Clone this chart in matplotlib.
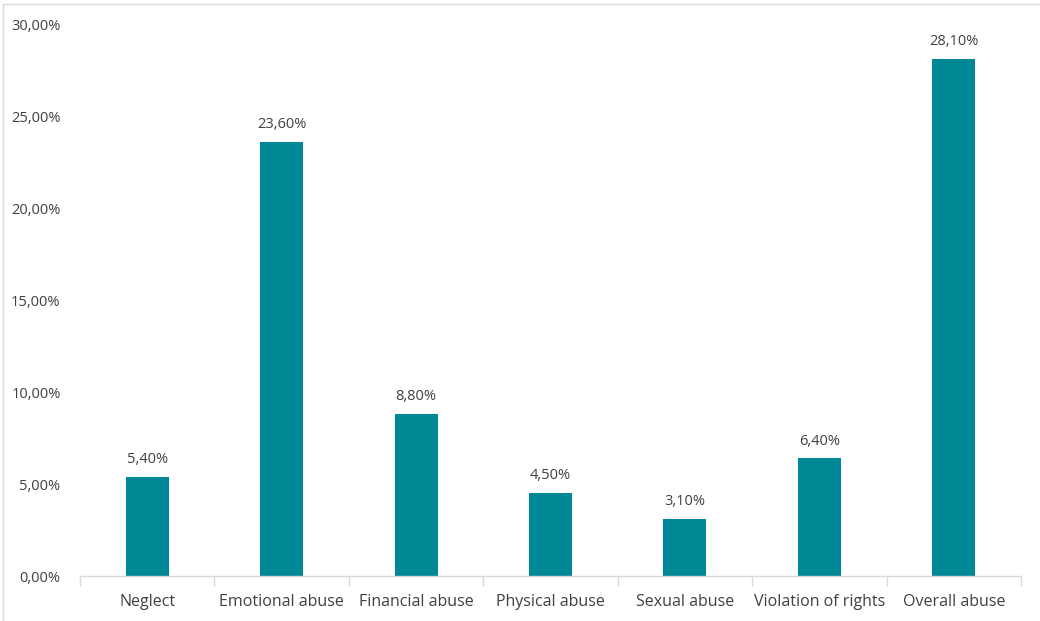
import matplotlib
matplotlib.use("Agg")
import matplotlib.pyplot as plt
from matplotlib.lines import Line2D
import numpy as np

categories = ["Neglect", "Emotional abuse", "Financial abuse", "Physical abuse",
              "Sexual abuse", "Violation of rights", "Overall abuse"]
values = [5.40, 23.60, 8.80, 4.50, 3.10, 6.40, 28.10]
yticks = [0, 5, 10, 15, 20, 25, 30]

plt.rcParams['font.family'] = ['Open Sans', 'DejaVu Sans']
txt = '#404040'
grey = '#d9d9d9'
bar_color = '#008896'

fig = plt.figure(figsize=(10.4, 6.21), dpi=100)
ax = fig.add_axes([80/1040, 1-576/621, (1021-80)/1040, (576-24)/621])

x = np.arange(len(categories))
ax.bar(x, values, width=0.32, color=bar_color, zorder=2)
for xi, v in zip(x, values):
    ax.annotate(f"{v:.2f}".replace('.', ',') + "%", (xi, v), xytext=(0, 7),
                textcoords='offset points', ha='center', va='bottom',
                fontsize=10.5, color=txt)

ax.set_xlim(-0.5, len(categories) - 0.5)
ax.set_ylim(0, 30)
ax.set_yticks(yticks)
ax.set_yticklabels([f"{t:.2f}".replace('.', ',') + "%" for t in yticks],
                   fontsize=10.5, color=txt)
ax.tick_params(axis='y', length=0, pad=14)
ax.set_xticks(x)
ax.set_xticklabels(categories, fontsize=11.5, color=txt)
ax.tick_params(axis='x', length=0, pad=13)
ax.set_xticks(np.arange(-0.5, len(categories)), minor=True)
ax.tick_params(axis='x', which='minor', length=7, color=grey, width=1)

for s in ['top', 'right', 'left']:
    ax.spines[s].set_visible(False)
ax.spines['bottom'].set_color(grey)
ax.spines['bottom'].set_linewidth(1)

# outer chart frame (top and left)
fig.add_artist(Line2D([3/1040, 1], [1-4/621, 1-4/621], transform=fig.transFigure,
                      color=grey, lw=1))
fig.add_artist(Line2D([3/1040, 3/1040], [0, 1-4/621], transform=fig.transFigure,
                      color=grey, lw=1))

fig.savefig("out.png", dpi=100)
